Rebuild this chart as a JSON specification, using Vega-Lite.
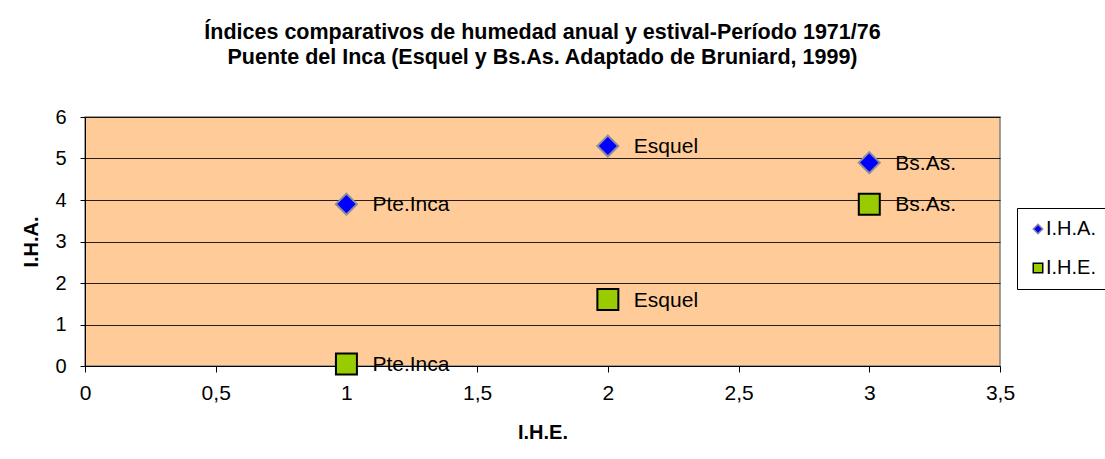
{
  "$schema": "https://vega.github.io/schema/vega-lite/v6.json",
  "width": 915,
  "height": 249,
  "autosize": "none",
  "padding": {"left": 85, "top": 117, "right": 105, "bottom": 93},
  "background": "white",
  "title": {
    "text": ["Índices comparativos de humedad anual y estival-Período 1971/76", "Puente del Inca (Esquel y Bs.As. Adaptado de Bruniard, 1999)"],
    "font": "Liberation Sans",
    "fontSize": 21.5,
    "fontWeight": "bold",
    "color": "#000000",
    "lineHeight": 25,
    "anchor": "middle",
    "offset": 39
  },
  "config": {
    "view": {"fill": "#FFCC99", "stroke": "#808080", "strokeWidth": 1.5},
    "font": "Liberation Sans"
  },
  "data": {
    "values": [
      {"serie": "I.H.A.", "lugar": "Pte.Inca", "ihe": 1, "iha": 3.9},
      {"serie": "I.H.A.", "lugar": "Esquel", "ihe": 2, "iha": 5.3},
      {"serie": "I.H.A.", "lugar": "Bs.As.", "ihe": 3, "iha": 4.9},
      {"serie": "I.H.E.", "lugar": "Pte.Inca", "ihe": 1, "iha": 0.05},
      {"serie": "I.H.E.", "lugar": "Esquel", "ihe": 2, "iha": 1.6},
      {"serie": "I.H.E.", "lugar": "Bs.As.", "ihe": 3, "iha": 3.9}
    ]
  },
  "encoding": {
    "x": {
      "field": "ihe",
      "type": "quantitative",
      "scale": {"domain": [0, 3.5], "nice": false, "zero": true},
      "axis": {
        "title": "I.H.E.",
        "values": [0, 0.5, 1, 1.5, 2, 2.5, 3, 3.5],
        "format": ",.1~f",
        "labelExpr": "replace(datum.label, '.', ',')",
        "labelFontSize": 21,
        "labelColor": "#000000",
        "labelPadding": 10,
        "labelFlush": false,
        "titleFontSize": 20,
        "titleFontWeight": "bold",
        "titleColor": "#000000",
        "titlePadding": 19,
        "grid": false,
        "domainColor": "#000000",
        "tickColor": "#000000",
        "tickSize": 6
      }
    },
    "y": {
      "field": "iha",
      "type": "quantitative",
      "scale": {"domain": [0, 6], "nice": false},
      "axis": {
        "title": "I.H.A.",
        "values": [0, 1, 2, 3, 4, 5, 6],
        "labelFontSize": 20,
        "labelColor": "#000000",
        "labelPadding": 14,
        "labelFlush": false,
        "titleFontSize": 20,
        "titleFontWeight": "bold",
        "titleColor": "#000000",
        "titlePadding": 13,
        "grid": true,
        "gridColor": "#000000",
        "gridOpacity": 0.85,
        "domainColor": "#000000",
        "tickColor": "#000000",
        "tickSize": 5
      }
    }
  },
  "layer": [
    {
      "mark": {"type": "point", "filled": true, "size": 440, "strokeWidth": 2, "opacity": 1},
      "encoding": {
        "color": {
          "field": "serie",
          "type": "nominal",
          "scale": {"domain": ["I.H.A.", "I.H.E."], "range": ["#0000FF", "#99CC00"]},
          "legend": {
            "title": null,
            "orient": "none",
            "legendX": 932,
            "legendY": 91,
            "strokeColor": "#000000",
            "padding": 11,
            "labelFontSize": 20,
            "labelColor": "#000000",
            "labelOffset": -2,
            "rowPadding": 19,
            "symbolSize": 90,
            "symbolStrokeWidth": 1.5,
            "fillColor": "#FFFFFF"
          }
        },
        "shape": {
          "field": "serie",
          "type": "nominal",
          "scale": {"domain": ["I.H.A.", "I.H.E."], "range": ["diamond", "square"]}
        },
        "stroke": {
          "field": "serie",
          "type": "nominal",
          "scale": {"domain": ["I.H.A.", "I.H.E."], "range": ["#8C8C9C", "#000000"]}
        }
      }
    },
    {
      "mark": {"type": "text", "align": "left", "baseline": "middle", "dx": 26, "dy": 1, "fontSize": 21, "color": "#000000"},
      "encoding": {"text": {"field": "lugar", "type": "nominal"}}
    }
  ]
}
